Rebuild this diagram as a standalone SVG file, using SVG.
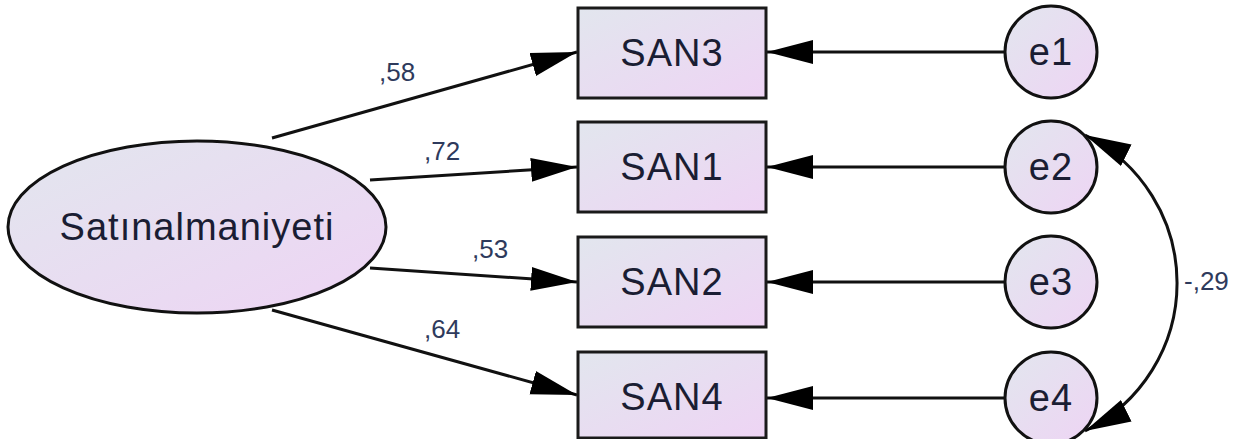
<svg xmlns="http://www.w3.org/2000/svg" width="1245" height="439" viewBox="0 0 1245 439">
<style>
.box{fill:url(#g);stroke:#1a1a1a;stroke-width:3}
.nt{font-family:"Liberation Sans",Arial,sans-serif;font-size:38px;fill:#1a1d33;text-anchor:middle;letter-spacing:1px}
.lb{font-family:"Liberation Sans",Arial,sans-serif;font-size:26px;fill:#2e3a5c}
.ln{stroke:#111;stroke-width:3;fill:none;marker-end:url(#ah)}
</style>
<defs>
<linearGradient id="g" x1="0" y1="0" x2="1" y2="1">
<stop offset="0" stop-color="#e2e6ee"/>
<stop offset="1" stop-color="#eed4f4"/>
</linearGradient>
<marker id="ah" markerUnits="userSpaceOnUse" markerWidth="48" markerHeight="26" refX="46" refY="13" orient="auto-start-reverse">
<path d="M0,1 L46,13 L0,25 Z" fill="#000"/>
</marker>
</defs>
<g id="connectors">
<path class="ln" d="M272,138 L577,52"/>
<path class="ln" d="M370,180 L577,167"/>
<path class="ln" d="M370,268 L577,282"/>
<path class="ln" d="M272,310 L577,395"/>
<path class="ln" d="M1005,52 L767,52"/>
<path class="ln" d="M1005,167 L767,167"/>
<path class="ln" d="M1005,282 L767,282"/>
<path class="ln" d="M1005,398 L767,398"/>
<path class="ln" style="marker-start:url(#ah)" d="M1085,135 A165,165 0 0 1 1085,431"/>
<text class="lb" x="379" y="81">,58</text>
<text class="lb" x="424" y="160">,72</text>
<text class="lb" x="472" y="258">,53</text>
<text class="lb" x="424" y="338">,64</text>
<text class="lb" x="1184" y="290">-,29</text>
</g>
<g id="Satinalmaniyeti">
<ellipse cx="197" cy="227" rx="189" ry="86" fill="url(#g)" stroke="#111" stroke-width="3"/>
<text class="nt" x="197" y="240" style="letter-spacing:1px">Satınalmaniyeti</text>
</g>
<g id="SAN3"><rect class="box" x="578" y="8" width="188" height="90"/><text class="nt" x="672" y="66">SAN3</text></g>
<g id="SAN1"><rect class="box" x="578" y="122" width="188" height="90"/><text class="nt" x="672" y="180">SAN1</text></g>
<g id="SAN2"><rect class="box" x="578" y="237" width="188" height="90"/><text class="nt" x="672" y="295">SAN2</text></g>
<g id="SAN4"><rect class="box" x="578" y="352" width="188" height="86"/><text class="nt" x="672" y="410">SAN4</text></g>
<g id="e1"><circle cx="1051" cy="52" r="46" fill="url(#g)" stroke="#111" stroke-width="3"/><text class="nt" x="1051" y="65">e1</text></g>
<g id="e2"><circle cx="1051" cy="167" r="46" fill="url(#g)" stroke="#111" stroke-width="3"/><text class="nt" x="1051" y="180">e2</text></g>
<g id="e3"><circle cx="1051" cy="282" r="46" fill="url(#g)" stroke="#111" stroke-width="3"/><text class="nt" x="1051" y="295">e3</text></g>
<g id="e4"><circle cx="1051" cy="398" r="46" fill="url(#g)" stroke="#111" stroke-width="3"/><text class="nt" x="1051" y="411">e4</text></g>
</svg>
